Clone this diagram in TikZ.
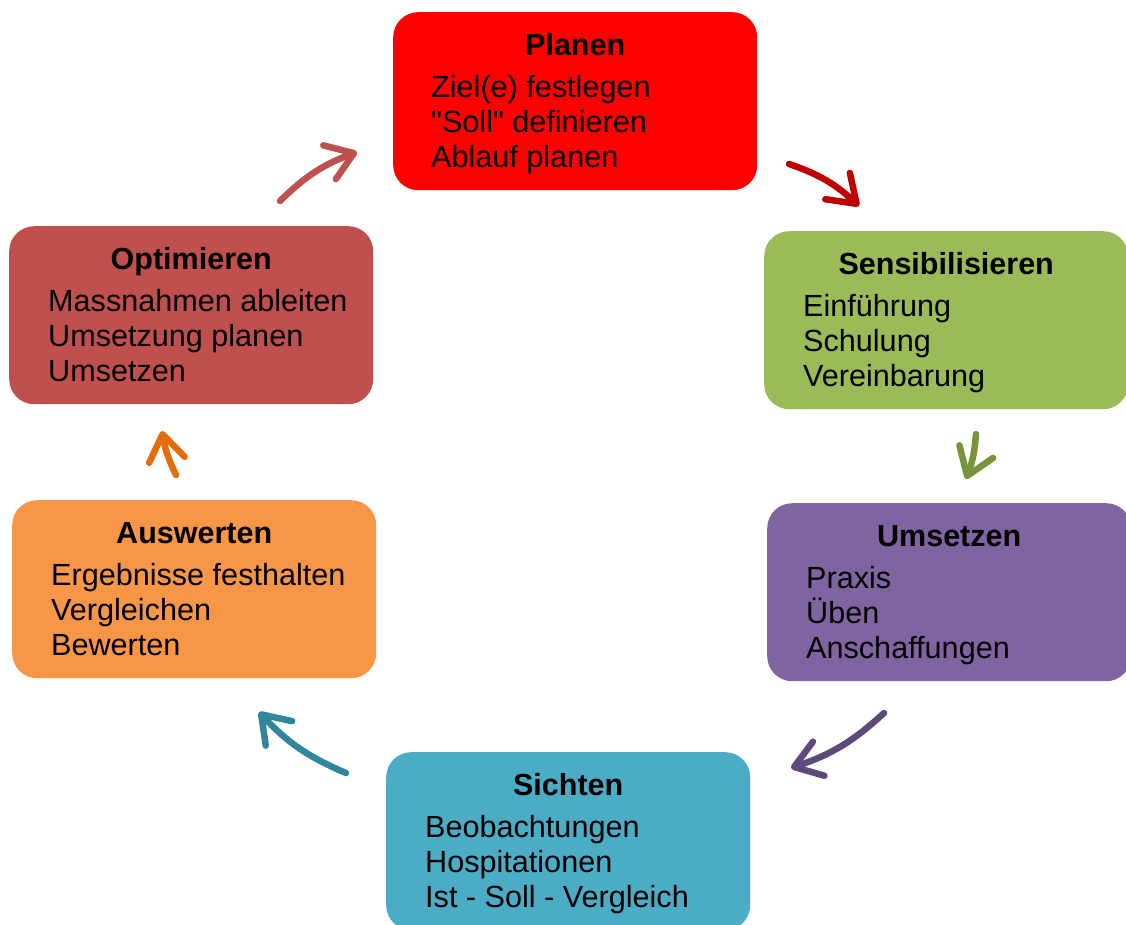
\documentclass[tikz,border=0pt]{standalone}
\usepackage{fontspec}
\setmainfont{Liberation Sans}
\newfontfamily\boxfont{Liberation Sans}
\usetikzlibrary{arrows.meta,calc}

\definecolor{planfill}{HTML}{FF0000}
\definecolor{sensfill}{HTML}{9BBB59}
\definecolor{umsfill}{HTML}{8064A2}
\definecolor{sichtfill}{HTML}{4BACC6}
\definecolor{auswfill}{HTML}{F79646}
\definecolor{optifill}{HTML}{C0504D}

\definecolor{planarr}{HTML}{C00000}
\definecolor{sensarr}{HTML}{77933C}
\definecolor{umsarr}{HTML}{5F497A}
\definecolor{sichtarr}{HTML}{31859C}
\definecolor{auswarr}{HTML}{E46C0A}
\definecolor{optiarr}{HTML}{C0504D}

\begin{document}
\begin{tikzpicture}[x=1pt, y=-1pt,
    box/.style={rectangle, rounded corners=25pt, anchor=north west,
        minimum width=364pt, minimum height=178pt, inner sep=0pt},
    title/.style={anchor=base, inner sep=0pt, font=\boxfont\fontsize{30.5}{35}\selectfont\bfseries},
    body/.style={anchor=base west, align=left, inner sep=0pt, font=\boxfont\fontsize{30.6}{35}\selectfont},
    cyc/.style={line width=6.5pt, line cap=round,
        -{Straight Barb[length=26pt, width=36pt, round]}}
]

    \useasboundingbox (0,0) rectangle (1126,924);

    % Boxes
    \node[box, fill=planfill]  (plan)  at (393,12)  {};
    \node[box, fill=sensfill]  (sens)  at (764,231) {};
    \node[box, fill=umsfill]   (ums)   at (767,503) {};
    \node[box, fill=sichtfill] (sicht) at (386,752) {};
    \node[box, fill=auswfill]  (ausw)  at (12,500)  {};
    \node[box, fill=optifill]  (opti)  at (9,226)   {};

    % Titles
    \node[title] (plantitle)  at ($(plan.north)+(0,43)$)  {Planen};
    \node[title] (senstitle)  at ($(sens.north)+(0,43)$)  {Sensibilisieren};
    \node[title] (umstitle)   at ($(ums.north)+(0,43)$)   {Umsetzen};
    \node[title] (sichttitle) at ($(sicht.north)+(0,43)$) {Sichten};
    \node[title] (auswtitle)  at ($(ausw.north)+(0,43)$)  {Auswerten};
    \node[title] (optititle)  at ($(opti.north)+(0,43)$)  {Optimieren};

    % Items (base = last line)
    \node[body] (planbody)  at ($(plan.north west)+(38,155)$)
        {Ziel(e) festlegen\\"Soll" definieren\\Ablauf planen};
    \node[body] (sensbody)  at ($(sens.north west)+(39,155)$)
        {Einführung\\Schulung\\Vereinbarung};
    \node[body] (umsbody)   at ($(ums.north west)+(39,155)$)
        {Praxis\\Üben\\Anschaffungen};
    \node[body] (sichtbody) at ($(sicht.north west)+(39,155)$)
        {Beobachtungen\\Hospitationen\\Ist - Soll - Vergleich};
    \node[body] (auswbody)  at ($(ausw.north west)+(39,155)$)
        {Ergebnisse festhalten\\Vergleichen\\Bewerten};
    \node[body] (optibody)  at ($(opti.north west)+(39,155)$)
        {Massnahmen ableiten\\Umsetzung planen\\Umsetzen};

    % Arrow ends
    \coordinate (a1s) at (280,201);
    \coordinate (a1e) at (357,152);
    \coordinate (a2s) at (789,164);
    \coordinate (a2e) at (859,206);
    \coordinate (a3s) at (976,434);
    \coordinate (a3e) at (966,479);
    \coordinate (a4s) at (884,713);
    \coordinate (a4e) at (791,768);
    \coordinate (a5s) at (346,773);
    \coordinate (a5e) at (259,712);
    \coordinate (a6s) at (176,475);
    \coordinate (a6e) at (162,431);

    % Cycle arrows
    \draw[cyc, optiarr]  (a1s) to[bend left=12] (a1e);
    \draw[cyc, planarr]  (a2s) to[bend left=12] (a2e);
    \draw[cyc, sensarr]  (a3s) to[bend left=8]  (a3e);
    \draw[cyc, umsarr]   (a4s) to[bend left=12] (a4e);
    \draw[cyc, sichtarr] (a5s) to[bend left=12] (a5e);
    \draw[cyc, auswarr]  (a6s) to[bend left=8]  (a6e);

\end{tikzpicture}
\end{document}
